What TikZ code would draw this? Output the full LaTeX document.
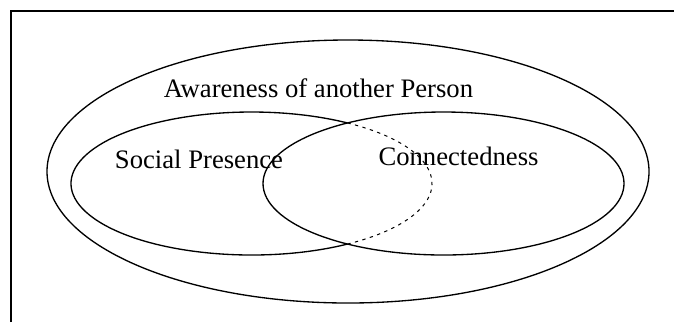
\documentclass[tikz,border=0pt]{standalone}
\usepackage{fontspec}
\setmainfont{Liberation Serif}
\usepackage{tikz}

\begin{document}
\begin{tikzpicture}[x=0.45pt,y=-0.45pt,set/.style={line width=0.6pt},label/.style={font=\fontsize{12pt}{14pt}\selectfont,inner sep=0pt}]
					\useasboundingbox (0,0) rectangle (674,322);
					\draw[line width=0.8pt] (11,322) -- (11,11) -- (674,11);
					% outer set
					\draw[set] (348,171.5) ellipse [x radius=301,y radius=131.5];
					% the two inner sets
					\draw[set] (443.5,183.5) ellipse [x radius=180.5,y radius=71.5];
					\draw[set] (251.5,183.5) ++(57.9:180.5 and 71.5) arc [start angle=57.9,end angle=302.1,x radius=180.5,y radius=71.5];
					\draw[set,line width=0.45pt,dash pattern=on 1.5pt off 2pt] (251.5,183.5) ++(-57.9:180.5 and 71.5) arc [start angle=-57.9,end angle=57.9,x radius=180.5,y radius=71.5];

					\node (awareness) [label,anchor=base] at (318.5,97) {Awareness of another Person};
					\node (social) [label,anchor=base] at (199,168) {Social Presence};
					\node (connected) [label,anchor=base] at (458.5,165) {Connectedness};
				\end{tikzpicture}
\end{document}
